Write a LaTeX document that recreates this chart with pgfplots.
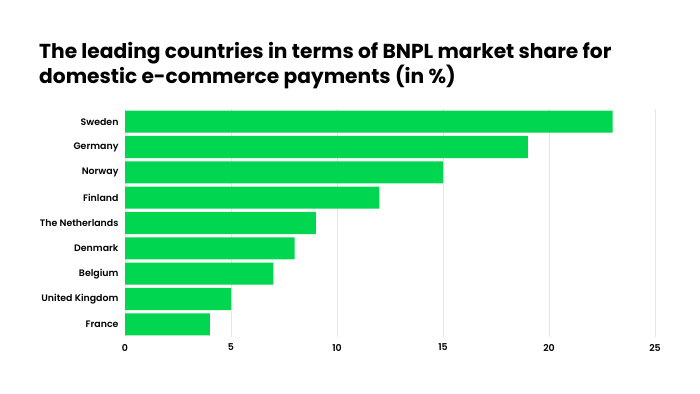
\documentclass[border=0pt]{standalone}
\usepackage{pgfplots}
\pgfplotsset{compat=1.18}
\usepackage{fontspec}
\setmainfont{Poppins}
\newfontfamily\psemi{Poppins}[UprightFont=* SemiBold]
\definecolor{bargreen}{HTML}{00D64F}
\definecolor{gridgray}{HTML}{E6E6E6}
\begin{document}
\begin{tikzpicture}
\useasboundingbox (0pt,0pt) rectangle (700pt,393pt);
\node[anchor=north west, align=left, font=\bfseries\fontsize{20.2}{25}\selectfont, inner sep=0pt] at (39pt,351pt)
  {The leading countries in terms of BNPL market share for\\domestic e-commerce payments (in \%)};
\begin{axis}[
  at={(125pt,56pt)}, anchor=south west,
  scale only axis, width=530pt, height=228pt,
  xmin=0, xmax=25, ymin=-0.5, ymax=8.5,
  xtick={0,5,10,15,20,25},
  ytick={0,...,8},
  yticklabels={France,United Kingdom,Belgium,Denmark,The Netherlands,Finland,Norway,Germany,Sweden},
  xbar, bar width=0.87, bar shift=0pt,
  axis line style={draw=none},
  major tick length=0pt,
  xmajorgrids, grid style={gridgray, line width=0.6pt},
  tick label style={font=\psemi\fontsize{9.4}{10}\selectfont, text=black},
  /pgf/number format/assume math mode=true,
  yticklabel style={xshift=-3pt},
  xticklabel style={yshift=-3.5pt},
  clip=false,
]
\addplot[fill=bargreen, draw=none] coordinates {
  (4,0) (5,1) (7,2) (8,3) (9,4) (12,5) (15,6) (19,7) (23,8)
};
\end{axis}
\end{tikzpicture}
\end{document}
